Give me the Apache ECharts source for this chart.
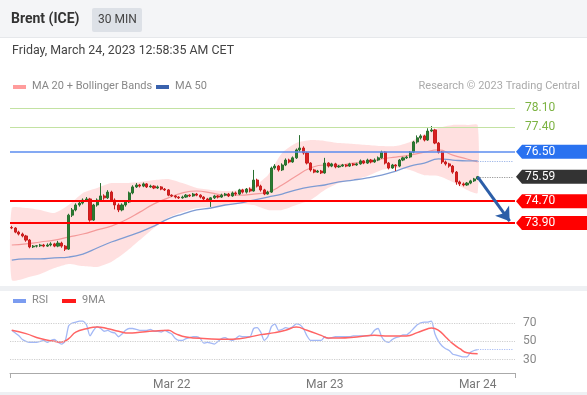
<!DOCTYPE html>
<html><head><meta charset="utf-8">
<script src="https://cdn.jsdelivr.net/npm/echarts@6/dist/echarts.min.js"></script>
<style>html,body{margin:0;padding:0;background:#fff}#c{width:587px;height:395px}</style>
</head><body><div id="c"></div>
<script>
// ---------- categories (30-min slots) ----------
const days = ['Mar 20','Mar 21','Mar 22','Mar 23','Mar 24'];
const tickLabels = ['Mar 22','Mar 23','Mar 24'];
const slotsPerDay = 43, firstSlot = 41, nSlots = 142;
const categories = [];
for (let k = 0; k < nSlots; k++) {
  const s = firstSlot + k;
  const d = Math.floor(s / slotsPerDay), m = (s % slotsPerDay) * 30 + 60;
  categories.push(days[d] + ' ' + String(Math.floor(m / 60)).padStart(2, '0') + ':' + String(m % 60).padStart(2, '0'));
}

// ---------- candles [open, close, low, high] ----------
const candles = [
[73.74,73.72,73.68,73.80],[73.72,73.57,73.53,73.75],[73.57,73.50,73.45,73.62],[73.50,73.43,73.38,73.55],
[73.43,73.28,73.22,73.47],[73.28,73.03,72.98,73.32],[73.03,73.06,72.99,73.10],[73.06,73.07,73.01,73.10],
[73.07,73.10,73.03,73.14],[73.10,73.06,73.02,73.14],[73.06,73.10,73.03,73.16],[73.10,73.14,73.05,73.20],
[73.14,73.06,73.02,73.18],[73.06,73.17,73.02,73.25],[73.17,73.06,73.00,73.22],[73.06,72.95,72.88,73.10],
[72.95,74.19,72.92,74.24],[74.19,74.38,74.12,74.45],[74.38,74.56,74.33,74.62],[74.56,74.63,74.50,74.70],
[74.63,74.74,74.58,74.80],[74.74,74.78,74.68,74.85],[74.78,74.01,73.95,74.82],[74.01,74.56,73.98,74.60],
[74.56,74.74,74.50,74.80],[74.74,74.89,74.70,75.36],[74.89,74.82,74.75,74.95],[74.82,75.03,74.78,75.10],
[75.03,74.74,74.68,75.08],[74.74,74.56,74.40,74.80],[74.56,74.38,74.30,74.62],[74.38,74.56,74.33,74.62],
[74.56,74.67,74.50,74.72],[74.67,75.00,74.63,75.05],[75.00,75.22,74.95,75.28],[75.22,75.29,75.18,75.36],
[75.29,75.25,75.20,75.33],[75.25,75.33,75.21,75.38],[75.33,75.22,75.18,75.36],[75.22,75.25,75.19,75.30],
[75.25,75.18,75.14,75.28],[75.18,75.22,75.15,75.27],[75.22,75.14,75.10,75.25],[75.14,75.11,75.07,75.18],
[75.11,74.92,74.88,75.14],[74.92,74.89,74.85,74.95],[74.89,74.85,74.80,74.92],[74.85,74.82,74.78,74.88],
[74.82,74.85,74.79,74.90],[74.85,74.92,74.82,74.96],[74.92,74.89,74.85,74.95],[74.89,74.96,74.86,75.00],
[74.96,74.92,74.88,75.00],[74.92,74.85,74.80,74.95],[74.85,74.78,74.74,74.88],[74.78,74.74,74.70,74.82],
[74.74,74.82,74.49,74.85],[74.82,74.89,74.78,74.93],[74.89,74.85,74.80,74.92],[74.85,74.92,74.82,74.97],
[74.92,74.96,74.88,75.00],[74.96,74.89,74.85,75.00],[74.89,75.00,74.86,75.05],[75.00,74.96,74.90,75.05],
[74.96,75.11,74.92,75.15],[75.11,75.03,74.98,75.15],[75.03,75.14,74.98,75.18],[75.14,75.07,75.02,75.20],
[75.07,75.47,75.05,75.84],[75.47,75.25,75.20,75.52],[75.25,75.11,75.05,75.30],[75.11,74.96,74.92,75.15],
[74.96,75.03,74.94,75.08],[75.03,75.91,75.00,75.96],[75.91,75.98,75.85,76.05],[75.98,75.84,75.78,76.02],
[75.84,76.02,75.80,76.08],[76.02,76.20,75.98,76.26],[76.20,76.13,76.08,76.25],[76.13,76.28,76.10,76.33],
[76.28,76.57,76.24,76.62],[76.57,76.64,76.50,77.11],[76.64,76.46,76.40,76.70],[76.46,76.09,76.04,76.50],
[76.09,75.84,75.78,76.12],[75.84,75.76,75.72,75.88],[75.76,75.80,75.73,75.84],[75.80,75.73,75.69,75.84],
[75.73,76.09,75.70,76.28],[76.09,75.98,75.93,76.12],[75.98,76.06,75.94,76.10],[76.06,75.95,75.90,76.10],
[75.95,75.98,75.92,76.02],[75.98,76.02,75.95,76.06],[76.02,75.98,75.94,76.05],[75.98,76.06,75.95,76.10],
[76.06,76.02,75.98,76.09],[76.02,76.06,75.99,76.10],[76.06,76.17,76.03,76.22],[76.17,76.09,76.05,76.20],
[76.09,76.20,76.06,76.25],[76.20,76.13,76.08,76.24],[76.13,76.20,76.10,76.26],[76.20,76.28,76.16,76.33],
[76.28,76.49,76.25,76.54],[76.49,76.09,76.04,76.52],[76.09,75.91,75.86,76.13],[75.91,76.02,75.88,76.06],
[76.02,75.98,75.80,76.05],[75.98,76.20,75.94,76.24],[76.20,76.28,76.16,76.32],[76.28,76.31,76.24,76.36],
[76.31,76.49,76.27,76.53],[76.49,76.86,76.45,76.90],[76.86,77.01,76.80,77.10],[77.01,77.08,76.95,77.14],
[77.08,76.93,76.88,77.12],[76.93,77.26,76.90,77.36],[77.26,77.30,77.22,77.44],[77.30,76.82,76.78,77.34],
[76.82,76.49,76.44,76.86],[76.49,76.13,76.06,76.53],[76.13,76.06,76.00,76.18],[76.06,75.98,75.92,76.10],
[75.98,75.76,75.70,76.02],[75.76,75.40,75.30,75.80],[75.40,75.33,75.25,75.45],[75.33,75.29,75.24,75.38],
[75.29,75.36,75.26,75.40],[75.36,75.44,75.32,75.48],[75.44,75.51,75.40,75.55],[75.51,75.59,75.48,75.62]
];

// ---------- Bollinger bands / MAs (sampled every 4 candles) ----------
const bandIdx   = [0,4,8,12,16,20,24,28,32,36,40,44,48,52,56,60,64,68,72,76,80,84,88,92,96,100,104,108,112,116,120,124,128,131];
const bandUpper = [74.45,74.45,74.38,74.27,74.56,75.00,75.18,75.36,75.36,75.40,75.47,75.51,75.36,75.18,75.11,75.07,75.11,75.25,75.65,76.46,76.82,76.93,76.90,76.82,76.79,76.75,76.71,76.71,76.86,77.15,77.37,77.48,77.48,77.48];
const bandLower = [71.82,71.90,72.04,72.26,72.41,72.33,72.30,72.48,72.84,73.28,73.72,74.09,74.30,74.45,74.49,74.56,74.60,74.56,74.38,74.38,74.56,74.74,75.11,75.36,75.47,75.62,75.84,75.91,75.84,75.65,75.62,75.40,75.11,75.00];
const ma20      = [73.10,73.14,73.21,73.28,73.39,73.50,73.65,73.79,74.01,74.30,74.60,74.82,75.00,75.07,75.00,74.92,74.92,74.96,75.03,75.29,75.62,75.91,76.02,76.02,76.09,76.13,76.24,76.31,76.38,76.49,76.57,76.38,76.24,76.13];
const ma50      = [72.55,72.59,72.59,72.63,72.66,72.77,72.99,73.21,73.39,73.57,73.79,74.05,74.23,74.38,74.45,74.56,74.63,74.74,74.85,74.96,75.11,75.22,75.29,75.40,75.47,75.55,75.65,75.80,75.98,76.09,76.24,76.20,76.17,76.17];
const ma50Last = 76.17;

// ---------- levels ----------
const levelValues = [78.10, 77.40, 76.50, 75.59, 74.70, 73.90];
const levelLabels = ['78.10','77.40','76.50','75.59','74.70','73.90'];
const arrowFrom = [131, 75.59];
const arrowTo = [140, 73.97];

// ---------- RSI ----------
const rsi = [62,59,56,52,50,49,49,49,50,51,49,51,52,49,47,50,67,70,71,72,72,68,56,62,66,64,61,62,60,59,55,58,62,64,64,63,62,62,62,63,
61,61,60,62,60,58,53,51,51,53,54,55,55,53,48,49,48,47,50,53,54,52,51,53,56,55,55,55,64,65,60,51,55,66,69,62,63,65,64,66,
69,68,64,56,51,51,51,51,55,53,54,55,55,55,55,55,56,56,56,56,56,57,62,64,55,50,49,52,54,55,57,57,60,64,68,70,71,71,72,58,
50,45,42,40,36,35,34,33,33,38,40,41];
const rsiMaIdx = [0,4,8,12,14,16,18,21,24,27,30,33,36,40,44,46,49,55,60,64,70,74,77,80,83,87,89,92,97,102,106,111,114,117,118,120,122,124,126,128,131];
const rsiMa    = [62,58.4,53,50,49.3,53,60,63.8,65.6,63.8,61,59,60,61.3,62,58.4,54.7,52.9,52.2,52.9,57.3,59.5,62,65.6,62,56.5,53.6,53.6,54.7,56.5,55.8,55.8,59.5,63.8,64.5,62,54.7,47.5,42,37.6,36.5];
const rsiLast = 41;
const rsiLevels = [70, 50, 30];

const FONT = 'Roboto, "Noto Sans", sans-serif';
const chart = echarts.init(document.getElementById('c'), null, {renderer: 'canvas'});
const cat = i => categories[i];
const pairs = (ix, vals) => ix.map((x, k) => [x, vals[k]]);

const tagStyles = [
  {text: '#7cb342'}, {text: '#7cb342'},
  {fill: '#2a72f0'}, {fill: '#333333'}, {fill: '#ff0000'}, {fill: '#ff0000'}
];

const option = {
  animation: false,
  backgroundColor: '#ffffff',
  grid: [
    {left: 10, width: 505, top: 94.3, height: 191.8},
    {left: 10, width: 505, top: 313.8, height: 59.2}
  ],
  xAxis: [
    {type: 'category', data: categories, gridIndex: 0, show: false},
    {type: 'category', data: categories, gridIndex: 1,
     axisLine: {lineStyle: {color: '#aaaaaa', width: 1}},
     axisTick: {show: true, interval: (i) => i === 0, length: 5, lineStyle: {color: '#aaaaaa'}},
     axisLabel: {
       interval: (i, v) => v.endsWith(' 01:00') && tickLabels.includes(v.slice(0, 6)),
       formatter: v => v.slice(0, 6), color: '#777', fontSize: 12, fontFamily: FONT, margin: 6
     },
     splitLine: {show: false}}
  ],
  yAxis: [
    {type: 'value', gridIndex: 0, min: 71.6, max: 78.6, show: false, splitLine: {show: false}},
    {type: 'value', gridIndex: 1, min: 15.5, max: 80, show: false, splitLine: {show: false}}
  ],
  graphic: [
    {type: 'rect', left: 0, top: 0, shape: {width: 587, height: 38}, style: {fill: '#f4f5f7'}, z: -10},
    {type: 'rect', left: 0, top: 37, shape: {width: 587, height: 1}, style: {fill: '#e6e8eb'}, z: -10},
    {type: 'rect', left: 0, top: 286, shape: {width: 587, height: 5}, style: {fill: '#eef0f3'}, z: -10},
    {type: 'rect', left: 0, top: 392, shape: {width: 587, height: 3}, style: {fill: '#eef0f3'}, z: -10},
    {type: 'text', left: 11, top: 12, style: {text: 'Brent (ICE)', fill: '#333', font: 'bold 14px ' + FONT}},
    {type: 'rect', left: 92, top: 8, shape: {width: 50, height: 24, r: 2}, style: {fill: '#dde1e7'}},
    {type: 'text', left: 98, top: 14, style: {text: '30 MIN', fill: '#444', font: '12px ' + FONT}},
    {type: 'text', left: 12, top: 45, style: {text: 'Friday, March 24, 2023 12:58:35 AM CET', fill: '#444', font: '12.4px ' + FONT}},
    {type: 'rect', left: 13, top: 85, shape: {width: 13, height: 4}, style: {fill: '#ff9c9c'}},
    {type: 'text', left: 32, top: 81, style: {text: 'MA 20 + Bollinger Bands', fill: '#888', font: '11px ' + FONT}},
    {type: 'rect', left: 156, top: 85, shape: {width: 13, height: 4}, style: {fill: '#3a62ad'}},
    {type: 'text', left: 175, top: 81, style: {text: 'MA 50', fill: '#888', font: '11px ' + FONT}},
    {type: 'text', right: 7, top: 81, style: {text: 'Research \u00a9 2023 Trading Central', fill: '#aaa', font: '11px ' + FONT}},
    {type: 'rect', left: 13, top: 299, shape: {width: 13, height: 4}, style: {fill: '#7b9cf0'}},
    {type: 'text', left: 32, top: 295, style: {text: 'RSI', fill: '#888', font: '11px ' + FONT}},
    {type: 'rect', left: 62, top: 299, shape: {width: 14, height: 4}, style: {fill: '#ff1a1a'}},
    {type: 'text', left: 82, top: 295, style: {text: '9MA', fill: '#888', font: '11px ' + FONT}}
  ],
  series: [
    { // Bollinger band fill
      type: 'custom', xAxisIndex: 0, yAxisIndex: 0, z: 1, silent: true,
      data: [[0, bandUpper[0]]],
      renderItem: function (params, api) {
        const pts = [];
        for (let k = 0; k < bandIdx.length; k++) pts.push(api.coord([bandIdx[k], bandUpper[k]]));
        for (let k = bandIdx.length - 1; k >= 0; k--) pts.push(api.coord([bandIdx[k], bandLower[k]]));
        return {type: 'polygon', shape: {points: pts, smooth: 0.2}, style: {fill: 'rgba(255,130,130,0.25)'}};
      }
    },
    {type: 'line', xAxisIndex: 0, yAxisIndex: 0, z: 2, data: pairs(bandIdx, ma20), smooth: true, showSymbol: false,
     lineStyle: {color: '#f49a9a', width: 1.2}},
    {type: 'line', xAxisIndex: 0, yAxisIndex: 0, z: 2, data: pairs(bandIdx, ma50), smooth: true, showSymbol: false,
     lineStyle: {color: '#7e9bd3', width: 1.3},
     markLine: {silent: true, symbol: 'none', label: {show: false},
       lineStyle: {color: '#9fb7e8', type: 'dotted', width: 1.2},
       data: [[{coord: [cat(131), ma50Last]}, {coord: [cat(nSlots - 1), ma50Last]}]]}},
    {type: 'candlestick', xAxisIndex: 0, yAxisIndex: 0, z: 3, data: candles, barWidth: 2.6,
     itemStyle: {color: '#2a7d30', color0: '#d92020', borderColor: '#2a7030', borderColor0: '#c81e1e', borderWidth: 1}},
    { // level lines
      type: 'line', xAxisIndex: 0, yAxisIndex: 0, z: 4, data: [],
      markLine: {silent: true, symbol: 'none', label: {show: false},
        data: [
          {yAxis: levelValues[0], lineStyle: {color: '#c3e2a2', width: 1, type: 'solid'}},
          {yAxis: levelValues[1], lineStyle: {color: '#c3e2a2', width: 1, type: 'solid'}},
          {yAxis: levelValues[2], lineStyle: {color: '#5b8def', width: 1.6, type: 'solid'}},
          {yAxis: levelValues[4], lineStyle: {color: '#ff0000', width: 2.2, type: 'solid'}},
          {yAxis: levelValues[5], lineStyle: {color: '#ff0000', width: 2.2, type: 'solid'}},
          [{coord: [cat(131), levelValues[3]], lineStyle: {color: '#999', width: 1.2, type: 'dotted'}},
           {coord: [cat(nSlots - 1), levelValues[3]]}]
        ]}
    },
    { // arrow
      type: 'line', xAxisIndex: 0, yAxisIndex: 0, z: 5, data: [],
      markLine: {silent: true, symbol: ['none', 'arrow'], symbolSize: 13, label: {show: false},
        lineStyle: {color: '#2c5ea8', width: 3, type: 'solid'},
        data: [[{coord: [cat(arrowFrom[0]), arrowFrom[1]]}, {coord: [cat(arrowTo[0]), arrowTo[1]]}]]}
    },
    { // level tags
      type: 'custom', xAxisIndex: 0, yAxisIndex: 0, z: 6, clip: false, silent: true,
      data: levelValues.map(v => [0, v]),
      renderItem: function (params, api) {
        const i = params.dataIndex;
        const y = api.coord([0, api.value(1)])[1];
        const x0 = params.coordSys.x + params.coordSys.width + 1;
        const st = tagStyles[i];
        const children = [];
        if (st.fill) {
          children.push({type: 'polygon', shape: {points: [[x0, y], [x0 + 6, y - 7], [587, y - 7], [587, y + 7], [x0 + 6, y + 7]]},
            style: {fill: st.fill}});
        }
        children.push({type: 'text', style: {text: levelLabels[i], x: x0 + 9, y: y, textVerticalAlign: 'middle',
          fill: st.fill ? '#ffffff' : st.text, font: '12px ' + FONT}});
        return {type: 'group', children: children};
      }
    },
    // RSI panel
    {type: 'line', xAxisIndex: 1, yAxisIndex: 1, z: 3, data: rsi, showSymbol: false, smooth: 0.2,
     lineStyle: {color: '#a3b8f5', width: 1.3},
     markLine: {silent: true, symbol: 'none',
       data: [
         ...rsiLevels.map(v => ({yAxis: v, lineStyle: {color: '#cfcfcf', type: 'dotted', width: 1.2},
           label: {show: true, position: 'end', formatter: String(v), color: '#888', fontSize: 12, fontFamily: FONT, distance: 8}})),
         [{coord: [cat(131), rsiLast], lineStyle: {color: '#a9bdf5', type: 'dotted', width: 1.2}, label: {show: false}},
          {coord: [cat(nSlots - 1), rsiLast]}]
       ]}},
    {type: 'line', xAxisIndex: 1, yAxisIndex: 1, z: 4, data: pairs(rsiMaIdx, rsiMa), showSymbol: false, smooth: true,
     lineStyle: {color: '#ff6464', width: 1.5}}
  ]
};
chart.setOption(option);
</script></body></html>
